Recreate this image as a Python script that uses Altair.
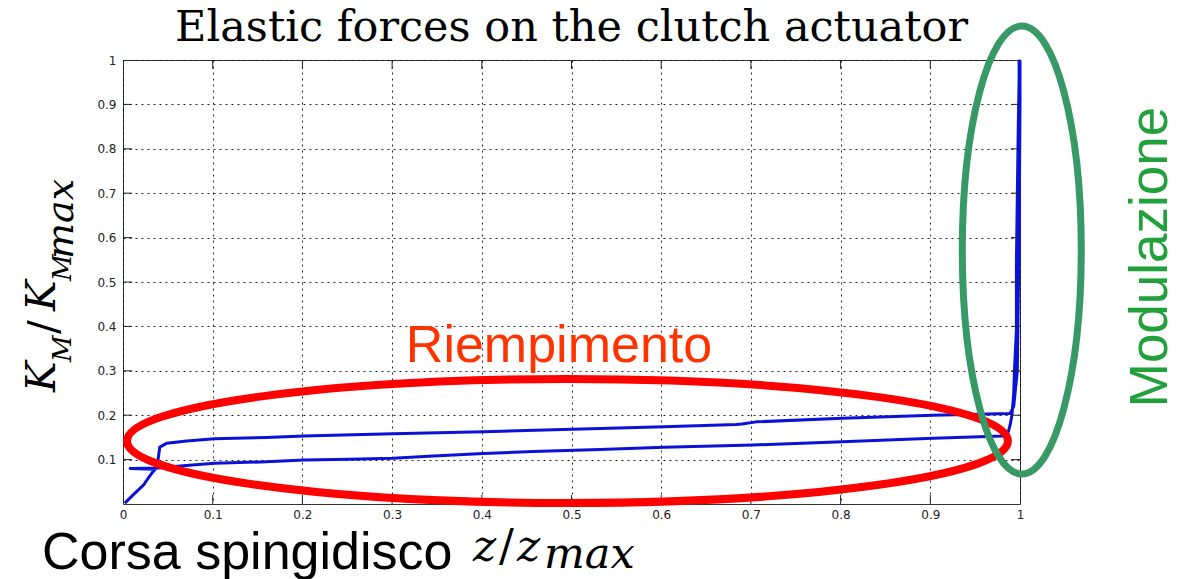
import altair as alt
import pandas as pd

# Measured loop of the clutch actuator, in the order it is traced
z_path = [0.002, 0.011, 0.023, 0.028, 0.032, 0.036, 0.008, 0.040,
          0.067, 0.102, 0.160, 0.202, 0.253, 0.301, 0.346, 0.402, 0.457, 0.532,
          0.603, 0.703, 0.802, 0.903, 0.981, 0.987, 0.989, 0.991, 0.993, 0.994,
          0.996, 0.996, 0.997, 0.998, 0.999, 0.999, 1.000,
          1.000, 0.999, 0.997, 0.993, 0.989,
          0.903, 0.802, 0.706, 0.690, 0.684, 0.603, 0.532, 0.402, 0.301,
          0.202, 0.160, 0.102, 0.071, 0.049, 0.041, 0.039, 0.037]
k_path = [0.002, 0.020, 0.043, 0.058, 0.069, 0.078, 0.080, 0.081,
          0.086, 0.092, 0.095, 0.099, 0.101, 0.103, 0.108, 0.114, 0.118, 0.123,
          0.128, 0.133, 0.140, 0.148, 0.153, 0.163, 0.178, 0.200, 0.249, 0.309,
          0.392, 0.542, 0.692, 0.842, 0.955, 0.998, 0.998,
          0.900, 0.600, 0.300, 0.220, 0.204,
          0.200, 0.193, 0.185, 0.180, 0.179, 0.174, 0.170, 0.163, 0.158,
          0.153, 0.150, 0.147, 0.142, 0.137, 0.128, 0.099, 0.082]

x_ticks = [0, 0.1, 0.2, 0.3, 0.4, 0.5, 0.6, 0.7, 0.8, 0.9, 1]
y_ticks = [0.1, 0.2, 0.3, 0.4, 0.5, 0.6, 0.7, 0.8, 0.9, 1]

# Highlight regions: centre (data units) of the two ellipses
fill_center = [0.4955, 0.142]
mod_center = [1.002, 0.572]

title_text = ["Elastic forces on the clutch actuator"]
fill_label = ["Riempimento"]
mod_label = ["Modulazione"]
x_label = ["Corsa spingidisco"]

W, H = 897, 444
TICK = 9

loop = pd.DataFrame({"z": z_path, "k": k_path, "i": list(range(len(z_path)))})

xs = alt.Scale(domain=[0, 1], nice=False, zero=False)
ys = alt.Scale(domain=[0, 1], nice=False, zero=False)

lab = dict(labelFont="DejaVu Sans", labelFontSize=12, labelColor="#222",
           labelFlush=False, labelExpr="format(datum.value, '~g')")
grid = dict(grid=True, gridColor="#111", gridDash=[2, 4], gridWidth=1, gridOpacity=0.9)

curve = alt.Chart(loop).mark_line(color="#0a12d8", strokeWidth=3, strokeJoin="round").encode(
    x=alt.X("z:Q", scale=xs, axis=alt.Axis(orient="bottom", values=x_ticks, ticks=False,
                                           domain=False, title=None, labelPadding=5, **lab, **grid)),
    y=alt.Y("k:Q", scale=ys, axis=alt.Axis(orient="left", values=y_ticks, ticks=False,
                                           domain=False, title=None, labelPadding=7, **lab, **grid)),
    order="i:Q",
)

# inward tick marks on all four sides of the box
xt = pd.DataFrame({"v": x_ticks[1:-1]})
yt = pd.DataFrame({"v": y_ticks[:-1]})
tick_style = dict(color="#222", strokeWidth=1)
ticks = [
    alt.Chart(xt).mark_rule(**tick_style).encode(
        x=alt.X("v:Q", scale=xs, axis=None), y=alt.value(H), y2=alt.value(H - TICK)),
    alt.Chart(xt).mark_rule(**tick_style).encode(
        x=alt.X("v:Q", scale=xs, axis=None), y=alt.value(0), y2=alt.value(TICK)),
    alt.Chart(yt).mark_rule(**tick_style).encode(
        y=alt.Y("v:Q", scale=ys, axis=None), x=alt.value(0), x2=alt.value(TICK)),
    alt.Chart(yt).mark_rule(**tick_style).encode(
        y=alt.Y("v:Q", scale=ys, axis=None), x=alt.value(W), x2=alt.value(W - TICK)),
]

ell_fill = alt.Chart(pd.DataFrame({"z": [fill_center[0]], "k": [fill_center[1]]})).mark_point(
    shape="M -1 0 A 1 0.1407 0 1 1 1 0 A 1 0.1407 0 1 1 -1 0 Z",
    filled=False, stroke="#ff0000", strokeWidth=8, opacity=1,
).encode(x=alt.X("z:Q", scale=xs, axis=None), y=alt.Y("k:Q", scale=ys, axis=None),
         size=alt.value(881 * 881))

ell_mod = alt.Chart(pd.DataFrame({"z": [mod_center[0]], "k": [mod_center[1]]})).mark_point(
    shape="M 0 -1 A 0.2656 1 0 1 1 0 1 A 0.2656 1 0 1 1 0 -1 Z",
    filled=False, stroke="#379a66", strokeWidth=7, opacity=1,
).encode(x=alt.X("z:Q", scale=xs, axis=None), y=alt.Y("k:Q", scale=ys, axis=None),
         size=alt.value(448 * 448))


def label(txt, x, y, size, color="black", font="Liberation Sans", style="normal",
          angle=0, align="left"):
    return alt.Chart(pd.DataFrame({"t": txt})).mark_text(
        font=font, fontSize=size, fontStyle=style, color=color, angle=angle,
        align=align, baseline="alphabetic",
    ).encode(text="t:N", x=alt.value(x), y=alt.value(y))


serif = "DejaVu Serif"
texts = [
    label(title_text, W / 2, -19, 43, font=serif, align="center"),
    label(fill_label, 436, 302, 52, color="#ff3300", align="center"),
    label(mod_label, 1044, 197, 53, color="#22a03c", angle=270, align="center"),
    label(x_label, -81, 509, 52),
    # z / z_max
    label(["z"], 350, 501, 44, font=serif, style="italic"),
    label(["/"], 376, 501, 44, font=serif),
    label(["z"], 394, 501, 44, font=serif, style="italic"),
    label(["max"], 421, 508, 43, font=serif, style="italic"),
    # K_M / K_Mmax
    label(["K"], -68, 332, 41, font=serif, style="italic", angle=270),
    label(["M"], -52, 302, 26, font=serif, style="italic", angle=270),
    label(["/"], -66, 274, 41, font=serif, angle=270),
    label(["K"], -68, 251, 41, font=serif, style="italic", angle=270),
    label(["M"], -52, 221, 26, font=serif, style="italic", angle=270),
    label(["max"], -50, 199, 38, font=serif, style="italic", angle=270),
]

chart = alt.layer(curve, *ticks, ell_fill, ell_mod, *texts).resolve_axis(
    x="independent", y="independent"
).properties(
    width=W, height=H,
    autosize=alt.AutoSizeParams(type="none"),
    padding={"left": 123, "top": 60, "right": 161, "bottom": 75},
    background="white",
).configure_view(stroke="#333", strokeWidth=1)

chart.save("out.html", embed_options={"renderer": "svg", "actions": False})
